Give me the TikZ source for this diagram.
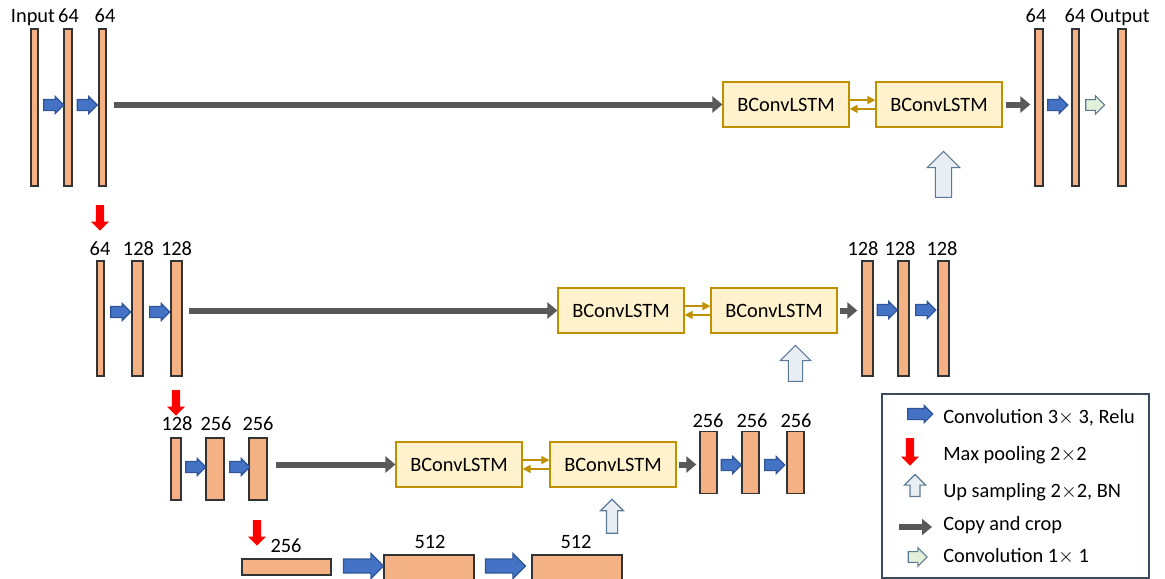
\documentclass[tikz,border=0pt]{standalone}
\usepackage{fontspec}
\setmainfont{Carlito}
\usepackage{xcolor}
\usetikzlibrary{shapes.arrows,arrows.meta,calc}
\definecolor{barfill}{HTML}{F4B183}
\definecolor{convblue}{HTML}{4472C4}
\definecolor{convedge}{HTML}{2F5597}
\definecolor{copygray}{HTML}{595959}
\definecolor{lstmfill}{HTML}{FFF2CC}
\definecolor{lstmdraw}{HTML}{BF9000}
\definecolor{upfill}{HTML}{E9EEF4}
\definecolor{upedge}{HTML}{5B7A95}
\definecolor{onefill}{HTML}{E2F0D9}
\definecolor{legdraw}{HTML}{3A4B5C}
\tikzset{
  bar/.style={draw=black!80, fill=barfill, line width=0.9pt, inner sep=0pt, minimum width=0.2cm},
  bar_a/.style={bar, minimum height=3.925cm},
  bar_b/.style={bar, minimum height=2.875cm},
  bar_c/.style={bar, minimum height=1.55cm},
  lstm/.style={draw=lstmdraw, fill=lstmfill, line width=0.8pt, minimum width=3.15cm, minimum height=1.125cm, inner sep=0pt},
  lbl/.style={anchor=base, inner sep=0pt},
  arr/.style={single arrow, line width=0.8pt},
  conv/.style={arr, inner xsep=0pt, draw=convedge, fill=convblue, minimum height=0.5cm, inner ysep=0.125cm, single arrow head extend=0.075cm},
  conv_one/.style={arr, inner xsep=0pt, draw=upedge, fill=onefill, minimum height=0.475cm, inner ysep=0.12cm, single arrow head extend=0.1cm},
  pool/.style={arr, draw=red, fill=red, shape border rotate=270, minimum height=0.6cm, inner ysep=0pt, inner xsep=0.075cm, single arrow head extend=0.1cm},
  upsmp/.style={arr, inner ysep=0pt, draw=upedge, fill=upfill, shape border rotate=90},
  copyarr/.style={draw=copygray, line width=0.15cm, -{Triangle[length=0.25cm, width=0.4cm]}},
  gold/.style={draw=lstmdraw, line width=1.1pt, -{Triangle[length=0.2cm, width=0.2cm]}}
}
\begin{document}
\begin{tikzpicture}[x=0.025cm, y=-0.025cm, font=\fontsize{14.5pt}{17pt}\selectfont]
\useasboundingbox (0,0) rectangle (1165,579);
% level 1
\node[bar_a, minimum width=0.175cm] (in) at (34.5,107.5) {};
\node[bar_a] (e1a) at (68,107.5) {};
\node[bar_a, minimum width=0.175cm] (e1b) at (102.5,107.5) {};
\node[lbl] (t_in) at (33,22) {Input};
\node[lbl] (t_e1a) at (68.5,22) {64};
\node[lbl] (t_e1b) at (105,22) {64};
\node[conv] (c1a) at (51,105) {};
\node[conv] (c1b) at (84.5,105) {};
\node[lstm] (l1a) at (786,104.5) {BConvLSTM};
\node[lstm] (l1b) at (939,104.5) {BConvLSTM};
\node[bar_a] (d1a) at (1039,107.5) {};
\node[bar_a, minimum width=0.175cm] (d1b) at (1075.5,107.5) {};
\node[bar_a] (d1c) at (1122,107.5) {};
\node[lbl] (t_d1a) at (1036,22) {64};
\node[lbl] (t_d1b) at (1075,22) {64};
\node[lbl] (t_out) at (1120,22) {Output};
\node[conv] (c1c) at (1055,105) {};
\node[conv_one] (c1d) at (1092.5,105) {};
\node[upsmp, minimum height=1.15cm, inner xsep=0.19cm, single arrow head extend=0.2cm] (u1) at (943.5,178.5) {};
\draw[copyarr] (e1b.east |- l1a.west) ++(0.175cm,0) -- (l1a.west);
\draw[copyarr] (l1b.east) ++(0.075cm,0) -- ($(d1a.west |- l1b.east)+(-0.1cm,0)$);
\draw[gold] ($(l1a.east)+(0,0.11cm)$) -- ($(l1b.west)+(0,0.11cm)$);
\draw[gold] ($(l1b.west)+(0,-0.11cm)$) -- ($(l1a.east)+(0,-0.11cm)$);
\node[pool] (p1) at (100,216) {};
% level 2
\node[bar_b, minimum width=0.175cm] (e2a) at (100.5,318.5) {};
\node[bar_b, minimum width=0.275cm] (e2b) at (137.5,318.5) {};
\node[bar_b, minimum width=0.275cm] (e2c) at (176.5,318.5) {};
\node[lbl] (t_e2a) at (100,255) {64};
\node[lbl] (t_e2b) at (138.5,255) {128};
\node[lbl] (t_e2c) at (176.5,255) {128};
\node[conv] (c2a) at (118,312) {};
\node[conv] (c2b) at (157,312) {};
\node[lstm] (l2a) at (621,310.5) {BConvLSTM};
\node[lstm] (l2b) at (774,310.5) {BConvLSTM};
\node[bar_b, minimum width=0.275cm] (d2a) at (867.5,318.5) {};
\node[bar_b, minimum width=0.275cm] (d2b) at (903.5,318.5) {};
\node[bar_b, minimum width=0.275cm] (d2c) at (943.5,318.5) {};
\node[lbl] (t_d2a) at (863,255) {128};
\node[lbl] (t_d2b) at (900,255) {128};
\node[lbl] (t_d2c) at (942,255) {128};
\node[conv] (c2c) at (884.5,310) {};
\node[conv] (c2d) at (923,310) {};
\node[upsmp, minimum height=0.9cm, inner xsep=0.165cm, single arrow head extend=0.2cm] (u2) at (795.5,367) {};
\draw[copyarr] (e2c.east |- l2a.west) ++(0.15cm,0) -- (l2a.west);
\draw[copyarr] (l2b.east) ++(0.05cm,0) -- ($(d2a.west |- l2b.east)+(-0.1cm,0)$);
\draw[gold] ($(l2a.east)+(0,0.11cm)$) -- ($(l2b.west)+(0,0.11cm)$);
\draw[gold] ($(l2b.west)+(0,-0.11cm)$) -- ($(l2a.east)+(0,-0.11cm)$);
\node[pool] (p2) at (176,401) {};
% level 3
\node[bar_c, minimum width=0.25cm] (e3a) at (176,469) {};
\node[bar_c, minimum width=0.45cm] (e3b) at (215,469) {};
\node[bar_c, minimum width=0.45cm] (e3c) at (258,469) {};
\node[lbl] (t_e3a) at (177,430) {128};
\node[lbl] (t_e3b) at (216,430) {256};
\node[lbl] (t_e3c) at (258,430) {256};
\node[conv] (c3a) at (193,467) {};
\node[conv] (c3b) at (237,467) {};
\node[lstm] (l3a) at (459,464.5) {BConvLSTM};
\node[lstm] (l3b) at (613,464.5) {BConvLSTM};
\node[bar_c, minimum width=0.425cm] (d3a) at (708.5,462.5) {};
\node[bar_c, minimum width=0.425cm] (d3b) at (750.5,462.5) {};
\node[bar_c, minimum width=0.425cm] (d3c) at (795.5,462.5) {};
\node[lbl] (t_d3a) at (708,427) {256};
\node[lbl] (t_d3b) at (752,427) {256};
\node[lbl] (t_d3c) at (796,427) {256};
\node[conv] (c3c) at (728.5,465) {};
\node[conv] (c3d) at (772,465) {};
\node[upsmp, minimum height=0.85cm, inner xsep=0.125cm, single arrow head extend=0.15cm] (u3) at (612,519) {};
\draw[copyarr] (e3c.east |- l3a.west) ++(0.2cm,0) -- (l3a.west);
\draw[copyarr] (l3b.east) ++(0.05cm,0) -- ($(d3a.west |- l3b.east)+(-0.075cm,0)$);
\draw[gold] ($(l3a.east)+(0,0.11cm)$) -- ($(l3b.west)+(0,0.11cm)$);
\draw[gold] ($(l3b.west)+(0,-0.11cm)$) -- ($(l3a.east)+(0,-0.11cm)$);
\node[pool] (p3) at (257,531) {};
% bottom
\node[bar, minimum width=2.225cm, minimum height=0.4cm] (b1) at (286.5,567) {};
\node[bar, minimum width=2.25cm, minimum height=0.65cm] (b2) at (429,568) {};
\node[bar, minimum width=2.25cm, minimum height=0.65cm] (b3) at (577,568) {};
\node[lbl] (t_b1) at (286,552) {256};
\node[lbl] (t_b2) at (430,548) {512};
\node[lbl] (t_b3) at (576,548) {512};
\node[conv, minimum height=1cm, inner ysep=0.16cm, single arrow head extend=0.14cm] (c4a) at (360,566) {};
\node[conv, minimum height=1cm, inner ysep=0.16cm, single arrow head extend=0.14cm] (c4b) at (502,566) {};
% legend
\draw[legdraw, line width=1pt] (882,394) rectangle (1149,578);
\node[conv, minimum height=0.625cm] (k1) at (917.5,414) {};
\node[pool, minimum height=0.65cm] (k2) at (910,450) {};
\node[upsmp, minimum height=0.55cm, inner xsep=0.11cm, single arrow head extend=0.14cm] (k3) at (915,488) {};
\coordinate (k4a) at (899,527);
\coordinate (k4b) at (932,527);
\draw[copyarr] (k4a) -- (k4b);
\node[conv_one] (k5) at (915,557) {};
\node[lbl, anchor=base west] (t_k1) at (943,423) {Convolution 3$\times$ 3, Relu};
\node[lbl, anchor=base west] (t_k2) at (943,460) {Max pooling 2$\times$2};
\node[lbl, anchor=base west] (t_k3) at (943,497) {Up sampling 2$\times$2, BN};
\node[lbl, anchor=base west] (t_k4) at (943,530) {Copy and crop};
\node[lbl, anchor=base west] (t_k5) at (943,562) {Convolution 1$\times$ 1};
\end{tikzpicture}
\end{document}
